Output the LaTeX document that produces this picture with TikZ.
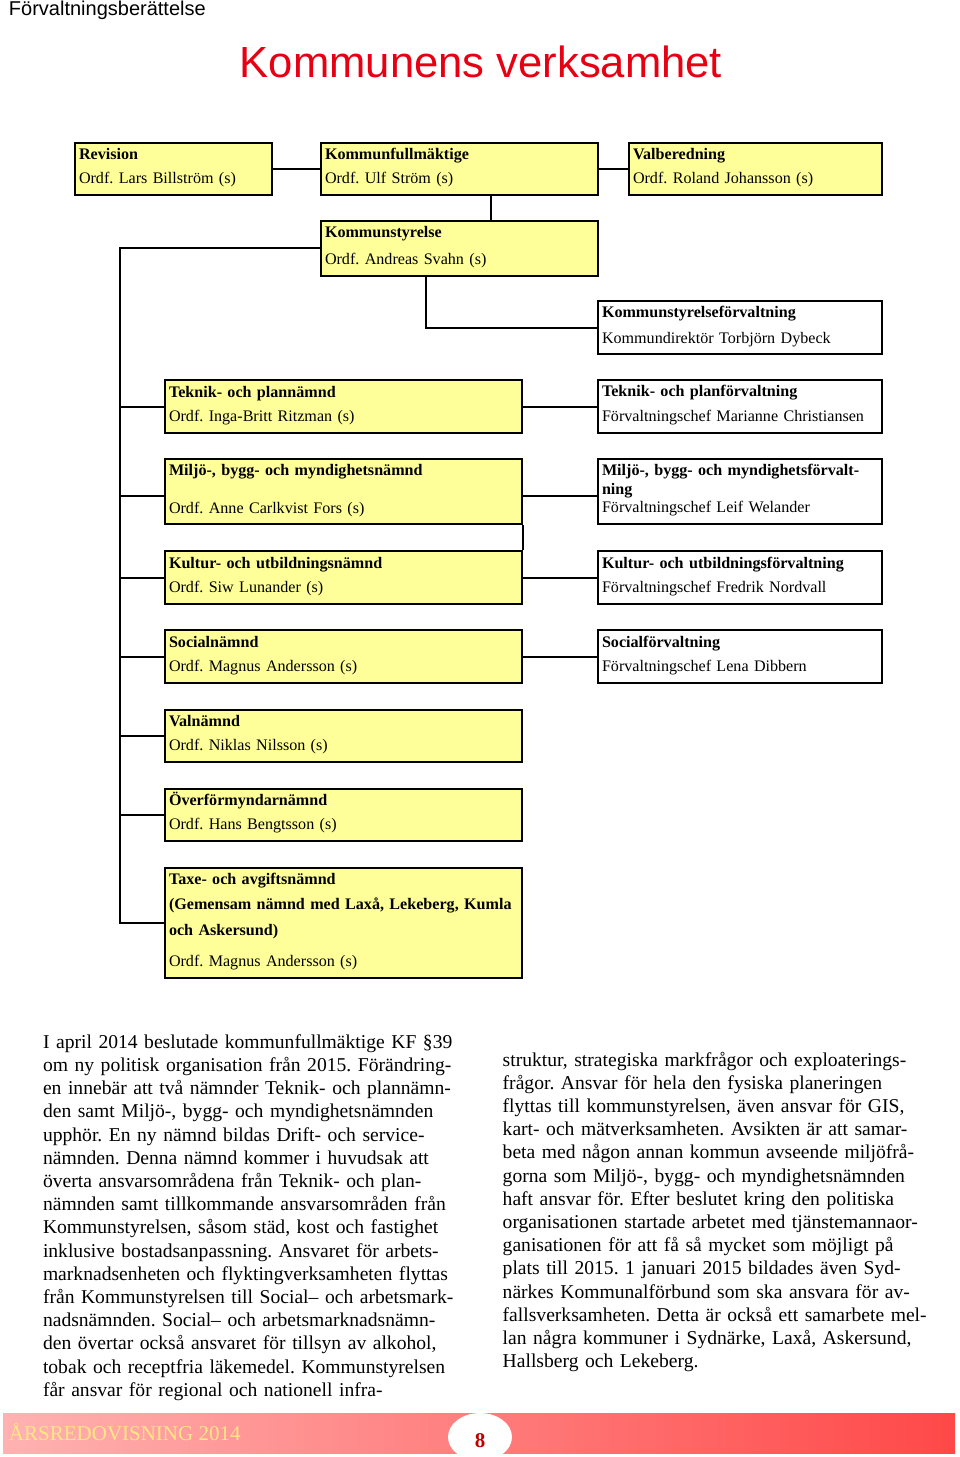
\documentclass[tikz,border=0pt]{standalone}
\usepackage{fontspec}
\setmainfont{Liberation Serif}
\newfontfamily\headfont{Liberation Sans}
\usepackage{tikz}
\setlength{\parindent}{0pt}
\frenchspacing
\definecolor{namndgul}{RGB}{255,255,153}
\definecolor{rubrikrod}{RGB}{230,0,18}
\definecolor{sidrod}{RGB}{192,0,0}
\definecolor{fotgul}{RGB}{255,232,130}
\definecolor{fotljus}{RGB}{255,178,178}
\definecolor{fotmork}{RGB}{255,72,72}

\begin{document}
\begin{tikzpicture}[x=1pt, y=-1pt, line width=2pt,
    box/.style={draw, line width=2pt, anchor=north west, align=left, inner xsep=4pt, inner ysep=0pt,
        font=\fontsize{16.1}{24}\selectfont,
        execute at begin node=\strut, execute at end node={\vrule width 0pt depth 11pt}},
    namnd/.style={box, fill=namndgul},
    forv/.style={box, fill=white},
    brodtext/.style={anchor=north west, align=left, inner sep=0pt, text width=445pt,
        font=\fontsize{19.6}{23.2}\selectfont, execute at begin node=\strut}]
            \useasboundingbox (0,0) rectangle (960,1457);
            \coordinate (trunk) at (120,0);
            \coordinate (kfks) at (491,0);
            \coordinate (ksx) at (426,0);
            \coordinate (mbline) at (0,496);
            \node (head) at (8,15) [anchor=base west, inner sep=0pt, font=\headfont\fontsize{20}{24}\selectfont] {Förvaltningsberättelse};
            \node (rubrik) at (481,77) [anchor=base, inner sep=0pt, text=rubrikrod, font=\headfont\fontsize{43.6}{50}\selectfont] {Kommunens verksamhet};
            \node (rev) at (74,142) [namnd, text width=189pt, minimum height=51pt] {\textbf{Revision}\\Ordf. Lars Billström (s)};
            \node (kf) at (320,142) [namnd, text width=269pt, minimum height=51pt] {\textbf{Kommunfullmäktige}\\Ordf. Ulf Ström (s)};
            \node (valb) at (628,142) [namnd, text width=245pt, minimum height=51pt] {\textbf{Valberedning}\\Ordf. Roland Johansson (s)};
            \node (ks) at (320,220) [namnd, text width=269pt, minimum height=54pt] {\textbf{Kommunstyrelse}\\[3pt]Ordf. Andreas Svahn (s)};
            \node (ksf) at (597,300) [forv, text width=276pt, minimum height=53pt] {\textbf{Kommunstyrelseförvaltning}\\[1.4pt]Kommundirektör Torbjörn Dybeck};
            \node (tpn) at (164,379) [namnd, text width=349pt, minimum height=53pt] {\textbf{Teknik- och plannämnd}\\Ordf. Inga-Britt Ritzman (s)};
            \node (tpf) at (597,379) [forv, text width=276pt, minimum height=53pt] {\textbf{Teknik- och planförvaltning}\\[1pt]Förvaltningschef Marianne Christiansen};
            \node (mbn) at (164,458) [namnd, text width=349pt, minimum height=65pt] {\textbf{Miljö-, bygg- och myndighetsnämnd}\\[13.3pt]Ordf. Anne Carlkvist Fors (s)};
            \node (mbf) at (597,458) [forv, text width=276pt, minimum height=65pt] {\textbf{Miljö-, bygg- och myndighetsförvalt-}\\[-5.5pt]\textbf{ning}\\[-5.5pt]Förvaltningschef Leif Welander};
            \node (kun) at (164,550) [namnd, text width=349pt, minimum height=53pt] {\textbf{Kultur- och utbildningsnämnd}\\Ordf. Siw Lunander (s)};
            \node (kuf) at (597,550) [forv, text width=276pt, minimum height=53pt] {\textbf{Kultur- och utbildningsförvaltning}\\Förvaltningschef Fredrik Nordvall};
            \node (son) at (164,629) [namnd, text width=349pt, minimum height=53pt] {\textbf{Socialnämnd}\\Ordf. Magnus Andersson (s)};
            \node (sof) at (597,629) [forv, text width=276pt, minimum height=53pt] {\textbf{Socialförvaltning}\\Förvaltningschef Lena Dibbern};
            \node (valn) at (164,709) [namnd, text width=349pt, minimum height=52pt] {\textbf{Valnämnd}\\Ordf. Niklas Nilsson (s)};
            \node (ovf) at (164,788) [namnd, text width=349pt, minimum height=52pt] {\textbf{Överförmyndarnämnd}\\Ordf. Hans Bengtsson (s)};
            \node (taxe) at (164,867) [namnd, text width=349pt, minimum height=108pt] {\textbf{Taxe- och avgiftsnämnd}\\[0.3pt]\textbf{(Gemensam nämnd med Laxå, Lekeberg, Kumla}\\[2.7pt]\textbf{och Askersund)}\\[7pt]Ordf. Magnus Andersson (s)};
            \draw (rev.east) -- (kf.west);
            \draw (kf.east) -- (valb.west);
            \draw (kf.south -| kfks) -- (ks.north -| kfks);
            \draw (ks.west) -| (taxe.west -| trunk) -- (taxe.west);
            \draw (ks.south -| ksx) |- (ksf.west);
            \draw (tpn.west -| trunk) -- (tpn.west);
            \draw (trunk |- mbline) -- (mbn.west |- mbline);
            \draw (kun.west -| trunk) -- (kun.west);
            \draw (son.west -| trunk) -- (son.west);
            \draw (valn.west -| trunk) -- (valn.west);
            \draw (ovf.west -| trunk) -- (ovf.west);
            \draw (tpn.east) -- (tpf.west);
            \draw (mbn.east |- mbline) -- (mbf.west |- mbline);
            \draw (mbn.south east) -- (kun.north east);
            \draw (kun.east) -- (kuf.west);
            \draw (son.east) -- (sof.west);
            \node (spalt1) at (42,1031.1) [brodtext] {I april 2014 beslutade kommunfullmäktige KF §39\\
om ny politisk organisation från 2015. Förändring-\\
en innebär att två nämnder Teknik- och plannämn-\\
den samt Miljö-, bygg- och myndighetsnämnden\\
upphör. En ny nämnd bildas Drift- och service-\\
nämnden. Denna nämnd kommer i huvudsak att\\
överta ansvarsområdena från Teknik- och plan-\\
nämnden samt tillkommande ansvarsområden från\\
Kommunstyrelsen, såsom städ, kost och fastighet\\
inklusive bostadsanpassning. Ansvaret för arbets-\\
marknadsenheten och flyktingverksamheten flyttas\\
från Kommunstyrelsen till Social– och arbetsmark-\\
nadsnämnden. Social– och arbetsmarknadsnämn-\\
den övertar också ansvaret för tillsyn av alkohol,\\
tobak och receptfria läkemedel. Kommunstyrelsen\\
får ansvar för regional och nationell infra-};
            \node (spalt2) at (501.7,1048.8) [brodtext] {struktur, strategiska markfrågor och exploaterings-\\
frågor. Ansvar för hela den fysiska planeringen\\
flyttas till kommunstyrelsen, även ansvar för GIS,\\
kart- och mätverksamheten. Avsikten är att samar-\\
beta med någon annan kommun avseende miljöfrå-\\
gorna som Miljö-, bygg- och myndighetsnämnden\\
haft ansvar för. Efter beslutet kring den politiska\\
organisationen startade arbetet med tjänstemannaor-\\
ganisationen för att få så mycket som möjligt på\\
plats till 2015. 1 januari 2015 bildades även Syd-\\
närkes Kommunalförbund som ska ansvara för av-\\
fallsverksamheten. Detta är också ett samarbete mel-\\
lan några kommuner i Sydnärke, Laxå, Askersund,\\
Hallsberg och Lekeberg.};
            \shade[left color=fotljus, right color=fotmork] (3,1413) rectangle (955,1453);
            \fill[white] (480,1437) ellipse [x radius=32, y radius=24];
            \node (arsred) at (8,1440) [anchor=base west, inner sep=0pt, text=fotgul, font=\fontsize{21}{24}\selectfont] {ÅRSREDOVISNING 2014};
            \node (sida) at (480,1447) [anchor=base, inner sep=0pt, text=sidrod, font=\bfseries\fontsize{21}{24}\selectfont] {8};
        \end{tikzpicture}
\end{document}
